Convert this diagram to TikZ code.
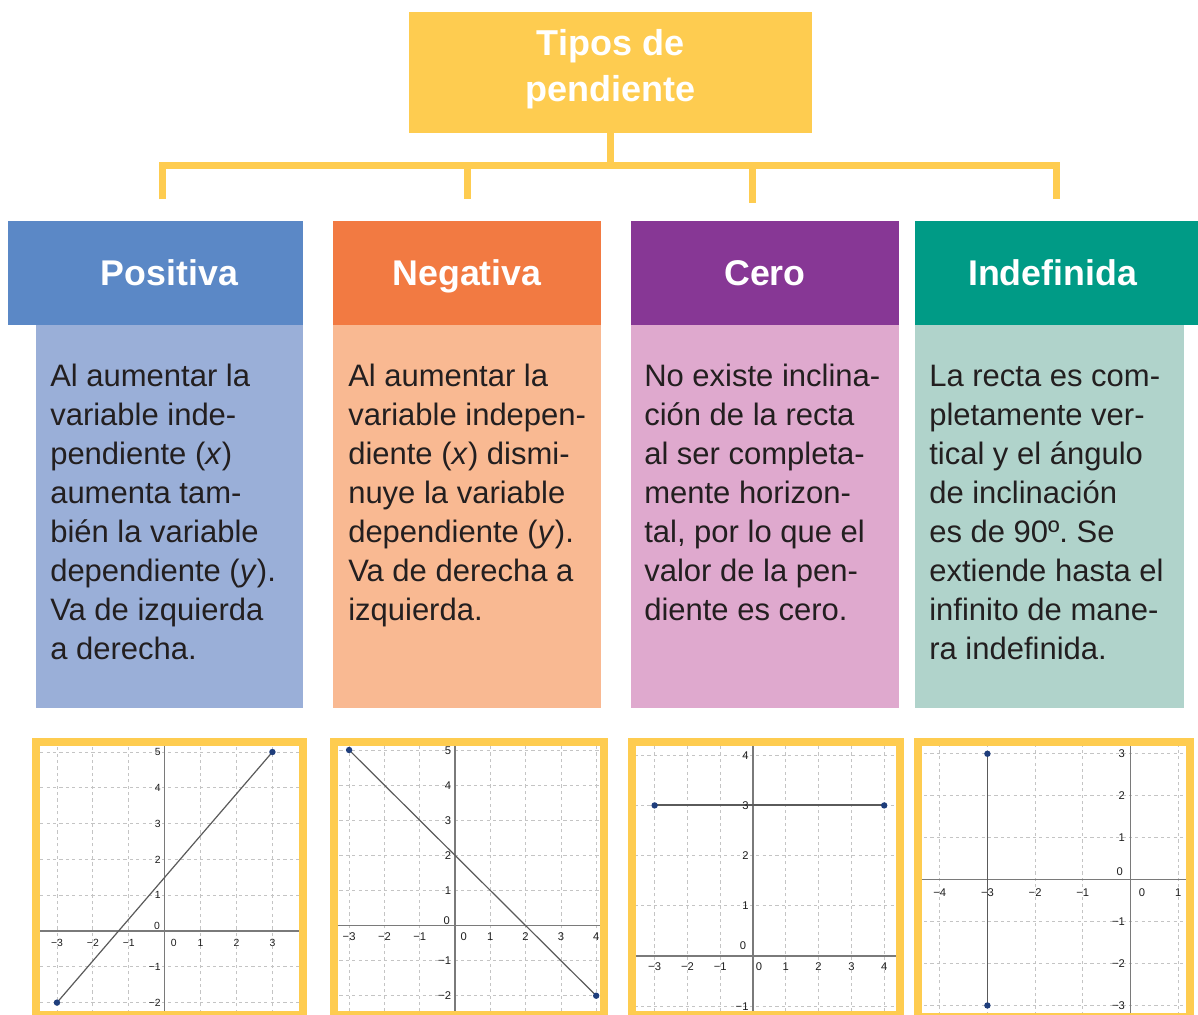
\documentclass[tikz,border=0pt]{standalone}
\usepackage{fontspec}
\setmainfont{Liberation Sans}
\frenchspacing
\definecolor{ybar}{HTML}{FECC50}
\definecolor{hblue}{HTML}{5B88C6}
\definecolor{bblue}{HTML}{9AAFD8}
\definecolor{horange}{HTML}{F27A42}
\definecolor{borange}{HTML}{F9B992}
\definecolor{hpurple}{HTML}{873795}
\definecolor{bpurple}{HTML}{DFA9CE}
\definecolor{hteal}{HTML}{009B86}
\definecolor{bteal}{HTML}{B0D3CB}
\definecolor{txt}{HTML}{231F20}
\definecolor{gridc}{HTML}{C4C4C4}
\definecolor{axisc}{HTML}{7A7A7A}
\definecolor{linec}{HTML}{5A5A5A}
\definecolor{dotc}{HTML}{1F3E7C}
\definecolor{labc}{HTML}{1E1E1E}
\newcommand\bodyline[1]{\hbox{#1}}
\newcommand\bodyblock[1]{\vtop{\baselineskip=29.25pt\lineskiplimit=-100pt #1}}
\newcommand\gnum[1]{\ifnum#1<0 −\the\numexpr 0-(#1)\relax\else#1\fi}
\tikzset{
  conn/.style={draw=ybar, line width=5.25pt},
  hdr/.style={fill=#1, inner sep=0pt, minimum height=78pt, text=white,
    font=\fontsize{26.8}{32}\selectfont\bfseries, text height=19.2pt, text depth=0pt},
  bodybox/.style={fill=#1, inner sep=0pt, minimum height=286.875pt},
  bodytxt/.style={inner sep=0pt, anchor=base west, text=txt, font=\fontsize{23.25}{29.25}\selectfont},
  ggrid/.style={draw=gridc, line width=0.6pt, dash pattern=on 2.4pt off 2.4pt},
  gaxis/.style={draw=axisc, line width=1.1pt},
  gline/.style={draw=linec, line width=0.9pt},
  gdot/.style={circle, fill=dotc, inner sep=0pt, minimum size=4.8pt},
  glab/.style={inner sep=0pt, text=labc, text depth=0pt},
  lab75/.style={glab, font=\fontsize{7.8}{9}\selectfont, text height=5.6pt},
  lab8/.style={glab, font=\fontsize{8.4}{10}\selectfont, text height=6pt},
  gframe/.style={draw=ybar, line width=6pt},
  g1/.style={shift={(164.7,931)}, x=26.93pt, y=26.85pt},
  g2/.style={shift={(455,925.5)}, x=26.475pt, y=26.325pt},
  g3/.style={shift={(753,956)}, x=24.6pt, y=37.65pt},
  g4/.style={shift={(1130.5,879.6)}, x=35.775pt, y=31.4625pt},
}
\begin{document}
\begin{tikzpicture}[x=0.75pt, y=-0.75pt]
\useasboundingbox (0,0) rectangle (1198,1014);
\fill[white] (0,0) rectangle (1198,1014);

% title
\node[fill=ybar, inner sep=0pt, minimum width=302.25pt, minimum height=90.4pt] (title) at (610.5,72.4) {};
\node[inner sep=0pt, anchor=base, text=white, font=\fontsize{27}{34.3}\selectfont\bfseries] (titletext) at (610.5,55.5)
  {\vtop{\baselineskip=34.3pt\hbox to 220pt{\hss Tipos de\hss}\hbox to 220pt{\hss pendiente\hss}}};

% connectors
\coordinate (bar) at (611,165.5);
\coordinate (l1t) at (162.5,165.5); \coordinate (l1b) at (162.5,199);
\coordinate (l2t) at (467.5,165.5); \coordinate (l2b) at (467.5,199);
\coordinate (l3t) at (752,165.5);   \coordinate (l3b) at (752,203);
\coordinate (l4t) at (1056.5,165.5);\coordinate (l4b) at (1056.5,199);
\draw[conn] (title.south) -- (title.south |- bar);
\draw[conn, line join=miter] (l1b) -- (l1t) -- (l4t) -- (l4b);
\draw[conn] (l2t) -- (l2b);
\draw[conn] (l3t) -- (l3b);

% bodies
\node[bodybox=bblue,   minimum width=200.25pt] (b1) at (169.5,516.25) {};
\node[bodybox=borange, minimum width=201pt]    (b2) at (467,516.25) {};
\node[bodybox=bpurple, minimum width=201pt]    (b3) at (765,516.25) {};
\node[bodybox=bteal,   minimum width=201.75pt] (b4) at (1049.5,516.25) {};

% headers
\node[hdr=hblue,   minimum width=221.25pt] (h1) at (155.5,273) {\hspace*{21pt}Positiva};
\node[hdr=horange, minimum width=201pt]    (h2) at (467,273) {Negativa};
\node[hdr=hpurple, minimum width=201pt]    (h3) at (765,273) {Cero};
\node[hdr=hteal,   minimum width=212.25pt] (h4) at (1056.5,273) {Indefinida\hspace*{6pt}};

% body texts
\node[bodytxt] (t1) at (50,386) {\bodyblock{%
  \bodyline{Al aumentar la}
  \bodyline{variable inde-}
  \bodyline{pendiente (\textit{x})}
  \bodyline{aumenta tam-}
  \bodyline{bién la variable}
  \bodyline{dependiente (\textit{y}).}
  \bodyline{Va de izquierda}
  \bodyline{a derecha.}}};
\node[bodytxt] (t2) at (348,386) {\bodyblock{%
  \bodyline{Al aumentar la}
  \bodyline{variable indepen-}
  \bodyline{diente (\textit{x}) dismi-}
  \bodyline{nuye la variable}
  \bodyline{dependiente (\textit{y}).}
  \bodyline{Va de derecha a}
  \bodyline{izquierda.}}};
\node[bodytxt] (t3) at (644,386) {\bodyblock{%
  \bodyline{No existe inclina-}
  \bodyline{ción de la recta}
  \bodyline{al ser completa-}
  \bodyline{mente horizon-}
  \bodyline{tal, por lo que el}
  \bodyline{valor de la pen-}
  \bodyline{diente es cero.}}};
\node[bodytxt] (t4) at (929,386) {\bodyblock{%
  \bodyline{La recta es com-}
  \bodyline{pletamente ver-}
  \bodyline{tical y el ángulo}
  \bodyline{de inclinación}
  \bodyline{es de 90º. Se}
  \bodyline{extiende hasta el}
  \bodyline{infinito de mane-}
  \bodyline{ra indefinida.}}};

% ---------- graph 1
\begin{scope}
  \clip (40,745) rectangle (299,1011);
  \begin{scope}[g1]
    \foreach \i in {-4,...,4} \draw[ggrid] (\i,-3) -- (\i,6);
    \foreach \j in {-3,...,6} \draw[ggrid] (-4,\j) -- (4,\j);
    \draw[gaxis] (-4,0) -- (4,0);
    \draw[gaxis] (0,-3) -- (0,6);
  \end{scope}
\end{scope}
\begin{scope}[g1]
  \coordinate (g1a) at (-3,-2); \coordinate (g1b) at (3,5);
  \draw[gline] (g1a) -- (g1b);
  \node[gdot] (g1pa) at (g1a) {}; \node[gdot] (g1pb) at (g1b) {};
  \foreach \i in {-3,-2,-1,1,2,3} \node[lab75, yshift=-9pt] (g1x\i) at (\i,0) {\gnum{\i}};
  \foreach \j in {-2,-1,1,2,3,4,5} \node[lab75, anchor=east, xshift=-2.8pt] (g1y\j) at (0,\j) {\gnum{\j}};
  \node[lab75, anchor=south east, xshift=-3.4pt, yshift=1.1pt] (g1y0) at (0,0) {0};
  \node[lab75, anchor=west, xshift=4.5pt, yshift=-9pt] (g1x0) at (0,0) {0};
\end{scope}
\draw[gframe] (36,741.5) rectangle (303,1015);

% ---------- graph 2
\begin{scope}
  \clip (338,745) rectangle (600,1011);
  \begin{scope}[g2]
    \foreach \i in {-4,...,5} \draw[ggrid] (\i,-3) -- (\i,6);
    \foreach \j in {-3,...,6} \draw[ggrid] (-4,\j) -- (5,\j);
    \draw[gaxis] (-4,0) -- (5,0);
    \draw[gaxis] (0,-3) -- (0,6);
  \end{scope}
\end{scope}
\begin{scope}[g2]
  \coordinate (g2a) at (-3,5); \coordinate (g2b) at (4,-2);
  \draw[gline] (g2a) -- (g2b);
  \node[gdot] (g2pa) at (g2a) {}; \node[gdot] (g2pb) at (g2b) {};
  \foreach \i in {-3,-2,-1,1,2,3,4} \node[lab8, yshift=-8.25pt] (g2x\i) at (\i,0) {\gnum{\i}};
  \foreach \j in {-2,-1,1,2,3,4,5} \node[lab8, anchor=east, xshift=-2.8pt] (g2y\j) at (0,\j) {\gnum{\j}};
  \node[lab8, anchor=south east, xshift=-3.75pt, yshift=0.5pt] (g2y0) at (0,0) {0};
  \node[lab8, anchor=west, xshift=4pt, yshift=-8.25pt] (g2x0) at (0,0) {0};
\end{scope}
\draw[gframe] (334,741.5) rectangle (603.5,1015);

% ---------- graph 3
\begin{scope}
  \clip (636,745) rectangle (896,1011);
  \begin{scope}[g3]
    \foreach \i in {-4,...,5} \draw[ggrid] (\i,-2) -- (\i,5);
    \foreach \j in {-2,...,5} \draw[ggrid] (-4,\j) -- (5,\j);
    \draw[gaxis] (-4,0) -- (5,0);
    \draw[gaxis] (0,-2) -- (0,5);
  \end{scope}
\end{scope}
\begin{scope}[g3]
  \coordinate (g3a) at (-3,3); \coordinate (g3b) at (4,3);
  \draw[gline, line width=1.4pt] (g3a) -- (g3b);
  \node[gdot] (g3pa) at (g3a) {}; \node[gdot] (g3pb) at (g3b) {};
  \foreach \i in {-3,-2,-1,1,2,3,4} \node[lab8, yshift=-7.9pt] (g3x\i) at (\i,0) {\gnum{\i}};
  \foreach \j in {-1,1,2,3,4} \node[lab8, anchor=east, xshift=-3.2pt] (g3y\j) at (0,\j) {\gnum{\j}};
  \node[lab8, anchor=south east, xshift=-5pt, yshift=4.5pt] (g3y0) at (0,0) {0};
  \node[lab8, anchor=west, xshift=2pt, yshift=-7.9pt] (g3x0) at (0,0) {0};
\end{scope}
\draw[gframe] (632,741.5) rectangle (900,1015);

% ---------- graph 4
\begin{scope}
  \clip (922,745) rectangle (1186,1014);
  \begin{scope}[g4]
    \foreach \i in {-5,...,2} \draw[ggrid] (\i,-4) -- (\i,4);
    \foreach \j in {-4,...,4} \draw[ggrid] (-5,\j) -- (2,\j);
    \draw[gaxis] (-5,0) -- (2,0);
    \draw[gaxis] (0,-4) -- (0,4);
  \end{scope}
\end{scope}
\begin{scope}[g4]
  \coordinate (g4a) at (-3,3); \coordinate (g4b) at (-3,-3);
  \draw[gline, line width=1.1pt] (g4a) -- (g4b);
  \node[gdot] (g4pa) at (g4a) {}; \node[gdot] (g4pb) at (g4b) {};
  \foreach \i in {-4,-3,-2,-1,1} \node[lab8, yshift=-9.45pt] (g4x\i) at (\i,0) {\gnum{\i}};
  \foreach \j in {-3,-2,-1,1,2,3} \node[lab8, anchor=east, xshift=-4.1pt] (g4y\j) at (0,\j) {\gnum{\j}};
  \node[lab8, anchor=south east, xshift=-5.5pt, yshift=2.7pt] (g4y0) at (0,0) {0};
  \node[lab8, anchor=west, xshift=6pt, yshift=-9.45pt] (g4x0) at (0,0) {0};
\end{scope}
\draw[gframe] (918,741.5) rectangle (1190,1017);
\end{tikzpicture}
\end{document}
